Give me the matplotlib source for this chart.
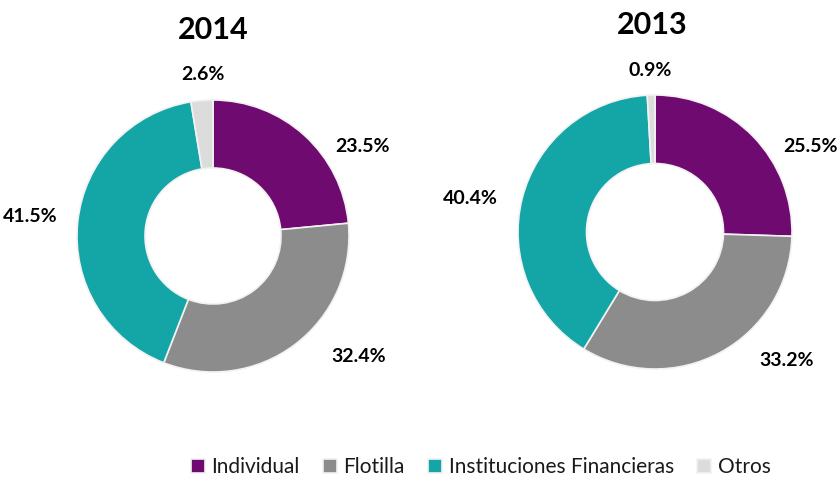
import numpy as np
import matplotlib.pyplot as plt

plt.rcParams['font.family'] = ['Lato', 'DejaVu Sans']

categories = ['Individual', 'Flotilla', 'Instituciones Financieras', 'Otros']
years = ['2014', '2013']
shares_2014 = [23.5, 32.4, 41.5, 2.6]
shares_2013 = [25.5, 33.2, 40.4, 0.9]
colors = ['#6f0a70', '#8c8c8c', '#14a5a6', '#dcdcdc']

W, H = 840, 483
fig = plt.figure(figsize=(W / 100, H / 100), dpi=100)
ax = fig.add_axes([0, 0, 1, 1])

# donut placement in pixel space (y measured from top)
centers = [(213, 236), (655, 232)]
radii = [136, 137]
title_pos = [(213, 30), (652, 25)]
label_pos = [
    [(362, 147), (359, 357), (30, 216), (203, 75)],
    [(811, 147), (787, 361), (470, 198), (650, 70)],
]

wedge_sets = []
for k, vals in enumerate([shares_2014, shares_2013]):
    cx, cy = centers[k]
    r = radii[k]
    wedges, _ = ax.pie(vals, colors=colors, startangle=90, counterclock=False,
                       center=(cx, H - cy), radius=r, frame=True,
                       wedgeprops=dict(width=r * 0.5, edgecolor='#f2f2f2', linewidth=1.2))
    wedge_sets.append(wedges)
    tx, ty = title_pos[k]
    ax.text(tx, H - ty, years[k], ha='center', va='center', fontsize=22,
            fontweight='bold', color='black')
    for v, (lx, ly) in zip(vals, label_pos[k]):
        ax.text(lx, H - ly, f'{v:.1f}%', ha='center', va='center', fontsize=14,
                fontweight='bold', color='black')

ax.set_xlim(0, W)
ax.set_ylim(0, H)
ax.set_aspect('equal')
ax.axis('off')

leg = ax.legend(wedge_sets[0], categories, loc='lower center', bbox_to_anchor=(0.572, -0.01),
                ncol=4, frameon=False, fontsize=15, handlelength=0.7, handleheight=0.7,
                handletextpad=0.3, columnspacing=1.1, borderaxespad=0.1)
for t in leg.get_texts():
    t.set_color('#1a1a1a')

fig.savefig('out.png', dpi=100)
